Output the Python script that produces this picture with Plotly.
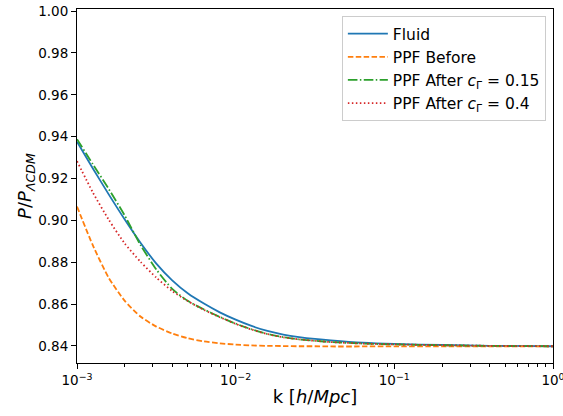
import plotly.graph_objects as go

# log10 of k (h/Mpc)
log_k = [-3.0, -2.9, -2.8, -2.7, -2.6, -2.5, -2.4, -2.3, -2.2, -2.1, -2.0, -1.9, -1.8,
         -1.7, -1.6, -1.5, -1.4, -1.2, -1.0, -0.7, -0.4, 0.0]
k = [10 ** v for v in log_k]

fluid = [0.9376, 0.9248, 0.9124, 0.9005, 0.8893, 0.8793, 0.8713, 0.8650, 0.8602, 0.8560,
         0.8525, 0.8495, 0.8471, 0.8454, 0.8442, 0.8433, 0.8426, 0.8415, 0.8409, 0.8404,
         0.8400, 0.8398]
ppf_before = [0.9066, 0.8880, 0.8725, 0.8616, 0.8540, 0.8492, 0.8459, 0.8436, 0.8421, 0.8412,
              0.8406, 0.8402, 0.8400, 0.8399, 0.8398, 0.8398, 0.8397, 0.8397, 0.8397, 0.8397,
              0.8397, 0.8397]
ppf_015 = [0.9388, 0.9268, 0.9150, 0.9024, 0.8882, 0.8765, 0.8672, 0.8614, 0.8574, 0.8538,
           0.8506, 0.8479, 0.8457, 0.8442, 0.8431, 0.8424, 0.8418, 0.8411, 0.8407, 0.8403,
           0.8400, 0.8398]
ppf_04 = [0.9283, 0.9133, 0.9003, 0.8890, 0.8802, 0.8726, 0.8662, 0.8613, 0.8572, 0.8537,
          0.8505, 0.8478, 0.8456, 0.8441, 0.8431, 0.8424, 0.8418, 0.8411, 0.8407, 0.8403,
          0.8400, 0.8398]

names = ["Fluid", "PPF Before", "PPF After <i>c</i><sub>Γ</sub> = 0.15",
         "PPF After <i>c</i><sub>Γ</sub> = 0.4"]
series = [fluid, ppf_before, ppf_015, ppf_04]
colors = ["#1f77b4", "#ff7f0e", "#2ca02c", "#d62728"]
dashes = ["solid", "5.5px,2.4px", "9.6px,2.4px,1.5px,2.4px", "1.5px,2.5px"]

xticks = [1e-3, 1e-2, 1e-1, 1.0]
xticklabels = ["10<sup>−3</sup>", "10<sup>−2</sup>", "10<sup>−1</sup>", "10<sup>0</sup>"]
minor_ticks = [m * d for d in [1e-3, 1e-2, 1e-1] for m in range(2, 10)]
yticks = [0.84, 0.86, 0.88, 0.90, 0.92, 0.94, 0.96, 0.98, 1.00]

fig = go.Figure()
for y, n, c, d in zip(series, names, colors, dashes):
    fig.add_trace(go.Scatter(x=k, y=y, name=n, mode="lines",
                             line=dict(color=c, width=1.8, dash=d, shape="spline", smoothing=0.6)))

axis_common = dict(showline=True, linecolor="black", linewidth=1, mirror=True,
                   ticks="outside", ticklen=5, tickcolor="black", showgrid=False,
                   zeroline=False, automargin=False, ticklabeloverflow="allow",
                   tickfont=dict(size=13.5, color="black"))

fig.update_xaxes(type="log", range=[-3, 0], tickvals=xticks, ticktext=xticklabels,
                 minor=dict(tickvals=minor_ticks, ticks="outside", ticklen=3, tickcolor="black"),
                 title=dict(text="k [<i>h</i>/<i>Mpc</i>]", font=dict(size=18, color="black"), standoff=3),
                 **axis_common)
fig.update_yaxes(range=[0.8318, 1.001], tickvals=yticks, tickformat=".2f",
                 title=dict(text="<i>P</i>/<i>P</i><sub><i>ΛCDM</i></sub>", font=dict(size=18, color="black"), standoff=1),
                 **axis_common)

fig.update_layout(
    width=563, height=416,
    margin=dict(l=77, r=10, t=9, b=53),
    plot_bgcolor="white", paper_bgcolor="white",
    font=dict(family="DejaVu Sans", size=14, color="black"),
    legend=dict(x=0.985, y=0.98, xanchor="right", yanchor="top",
                bgcolor="rgba(255,255,255,0.9)", bordercolor="#cccccc", borderwidth=1,
                font=dict(size=15.5), tracegroupgap=0, itemwidth=40),
)

fig.write_html("out.html", config={"displayModeBar": False},
               post_script="document.body.style.margin='0';document.body.style.overflow='hidden';")
